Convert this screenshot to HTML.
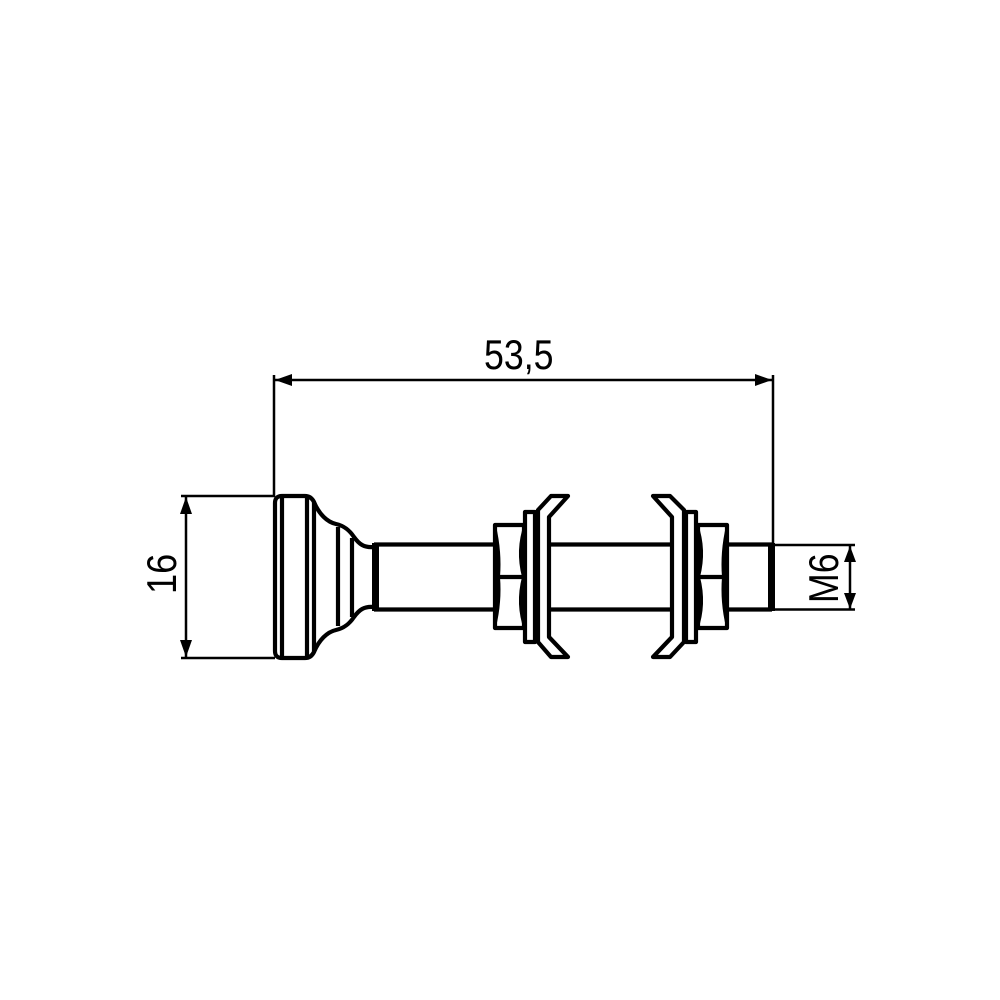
<!DOCTYPE html>
<html>
<head>
<meta charset="utf-8">
<style>
html,body{margin:0;padding:0;background:#fff;}
svg{display:block;}
text{font-family:"Liberation Sans",sans-serif;fill:#000;}
</style>
</head>
<body>
<svg width="1000" height="1000" viewBox="0 0 1000 1000" xmlns="http://www.w3.org/2000/svg">
<rect width="1000" height="1000" fill="#fff"/>

<!-- dimension lines -->
<g stroke="#000" stroke-width="2.500" fill="none">
  <path d="M274 375V497"/>
  <path d="M773 375V545"/>
  <path d="M275 380H772"/>
  <path d="M181 496H275"/>
  <path d="M181 658H275"/>
  <path d="M186 497V657"/>
  <path d="M772 545H855"/>
  <path d="M772 609.500H855"/>
  <path d="M850 546V609"/>
</g>
<g fill="#000">
  <path d="M275 380L292 374V386Z"/>
  <path d="M772 380L755 374V386Z"/>
  <path d="M186 497L180 514H192Z"/>
  <path d="M186 657L180 640H192Z"/>
  <path d="M850 546L844 562H856Z"/>
  <path d="M850 609L844 593H856Z"/>
</g>

<!-- shaft -->
<g stroke="#000" stroke-width="4.200" fill="none">
  <path d="M374 544.500H495"/>
  <path d="M374 609.500H495"/>
  <path d="M549 544.500H672"/>
  <path d="M549 609.500H672"/>
  <path d="M727 544.500H772"/>
  <path d="M727 609.500H772"/>
</g>
<rect x="372" y="543" width="7" height="68" fill="#000"/>
<rect x="768" y="543" width="7" height="68" fill="#000"/>

<!-- head -->
<g stroke="#000" stroke-width="4.200" fill="none" stroke-linejoin="round">
  <path d="M282 496H305Q311 496 314 502V652Q311 658 305 658H282Q275 658 275 651V503Q275 496 282 496Z"/>
  <path d="M282 496V658"/>
  <path d="M307 496V658"/>
  <path d="M314 502C319 514 327 522 336 524C345 526 350 531 354 537C359 544 364 548 374 547"/>
  <path d="M314 652C319 640 327 632 336 630C345 628 350 623 354 617C359 610 364 606 374 607"/>
  <path d="M338 527V626"/>
  <path d="M352 538V617"/>
</g>

<!-- left nut, washer, clip -->
<g stroke="#000" stroke-width="4.200" fill="#fff" stroke-linejoin="round">
  <path d="M495 525H524V628H495Z"/>
  <path d="M495 577H524" fill="none"/>
</g>
<path d="M524 524Q515 550 522 577Q515 604 524 630H528V524Z" fill="#000"/>
<path d="M496 526Q502 552 500 577Q502 602 496 627L494 627V526Z" fill="#000"/>
<g stroke="#000" stroke-width="4.200" fill="#fff" stroke-linejoin="round">
  <path d="M538 510L551 496H568L549 517V637L568 657H551L538 642Z"/>
  <path d="M525 512H535V642H525Z"/>
</g>

<!-- right nut, washer, clip -->
<g stroke="#000" stroke-width="4.200" fill="#fff" stroke-linejoin="round">
  <path d="M727 525H698V628H727Z"/>
  <path d="M698 577H727" fill="none"/>
</g>
<path d="M698 524Q707 550 700 577Q707 604 698 630H694V524Z" fill="#000"/>
<path d="M726 526Q720 552 722 577Q720 602 726 627L728 627V526Z" fill="#000"/>
<g stroke="#000" stroke-width="4.200" fill="#fff" stroke-linejoin="round">
  <path d="M684 510L670 496H653L672 517V637L653 657H670L684 642Z"/>
  <path d="M696 512H686V642H696Z"/>
</g>

<!-- labels -->
<text transform="translate(484 369) scale(.85 1)" font-size="42">53,5</text>
<text transform="translate(176 594) rotate(-90) scale(.86 1)" font-size="42">16</text>
<text transform="translate(838 603) rotate(-90) scale(.85 1)" font-size="42">M6</text>
</svg>
</body>
</html>
